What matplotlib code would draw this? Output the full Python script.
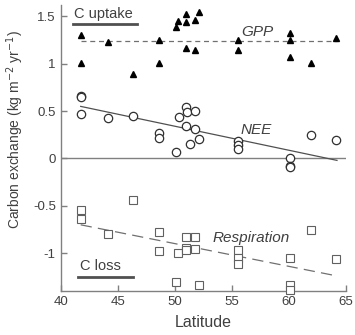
import matplotlib.pyplot as plt

# ── Data ──────────────────────────────────────────────────────────────────────
gpp_lat = [41.8, 41.8, 44.1, 46.3, 48.6, 48.6, 50.1, 50.25, 51.0, 51.0, 51.0,
           51.8, 51.8, 52.15, 55.5, 55.5, 60.1, 60.1, 60.1, 61.9, 64.1]
gpp_val = [1.30, 1.01, 1.23, 0.89, 1.25, 1.01, 1.39, 1.45, 1.52, 1.44, 1.17,
           1.46, 1.15, 1.55, 1.25, 1.15, 1.32, 1.25, 1.07, 1.01, 1.27]

nee_lat = [41.8, 41.8, 41.8, 44.1, 46.3, 48.6, 48.6, 50.1, 50.4, 51.0, 51.1,
           51.8, 51.0, 51.8, 51.3, 52.15, 55.5, 55.5, 55.5, 60.1, 60.1, 60.1,
           61.9, 64.1]
nee_val = [0.66, 0.65, 0.47, 0.43, 0.45, 0.27, 0.22, 0.07, 0.44, 0.54, 0.49,
           0.50, 0.34, 0.31, 0.15, 0.21, 0.18, 0.14, 0.10, 0.01, -0.08, -0.09,
           0.25, 0.20]

resp_lat = [41.75, 41.8, 44.1, 46.3, 48.6, 48.6, 50.25, 50.1, 51.0, 51.8,
            51.0, 51.0, 51.8, 52.15, 55.5, 55.5, 55.5, 60.1, 60.1, 60.1, 61.9,
            64.1]
resp_val = [-0.54, -0.64, -0.80, -0.44, -0.78, -0.98, -1.00, -1.30, -0.83,
            -0.83, -0.95, -0.97, -0.96, -1.34, -0.97, -1.05, -1.11, -1.05,
            -1.34, -1.39, -0.75, -1.06]

# fitted trend lines (end points)
fit_lat = [41.75, 64.2]
gpp_fit = [1.235, 1.235]
nee_fit = [0.55, -0.02]
resp_fit = [-0.70, -1.24]

x_ticks = [40, 45, 50, 55, 60, 65]
y_ticks = [-1, -0.5, 0, 0.5, 1, 1.5]
y_ticklabels = ["-1", "-0.5", "0", "0.5", "1", "1.5"]

# ── Figure ────────────────────────────────────────────────────────────────────
AXIS = "#808080"
TEXT = "#404040"
FONT = "Liberation Sans"

fig = plt.figure(figsize=(3.55, 3.35), dpi=100)
ax = fig.add_axes([0.171, 0.131, 0.804, 0.854])

ax.axhline(0, color=AXIS, linewidth=1.0, zorder=1)

ax.plot(fit_lat, gpp_fit, color="#707070", linewidth=0.9,
        linestyle=(0, (4, 3)), zorder=2)
ax.plot(fit_lat, nee_fit, color="#505050", linewidth=0.9, zorder=2)
ax.plot(fit_lat, resp_fit, color="#707070", linewidth=0.9,
        linestyle=(0, (9, 5)), zorder=2)

ax.plot(gpp_lat, gpp_val, "^", color="black", markersize=5, linestyle="none",
        zorder=3)
ax.plot(nee_lat, nee_val, "o", markerfacecolor="white", markeredgecolor="#303030",
        markeredgewidth=0.9, markersize=6, linestyle="none", zorder=3)
ax.plot(resp_lat, resp_val, "s", markerfacecolor="white", markeredgecolor="#606060",
        markeredgewidth=0.8, markersize=5.5, linestyle="none", zorder=3,
        clip_on=False)

# ── Annotations ───────────────────────────────────────────────────────────────
ax.text(57.2, 1.33, "GPP", fontstyle="italic", fontsize=11, color=TEXT,
        ha="center", va="center", family=FONT)
ax.text(57.1, 0.30, "NEE", fontstyle="italic", fontsize=11, color=TEXT,
        ha="center", va="center", family=FONT)
ax.text(56.7, -0.84, "Respiration", fontstyle="italic", fontsize=11, color=TEXT,
        ha="center", va="center", family=FONT)

ax.text(41.2, 1.52, "C uptake", fontsize=10.5, color=TEXT, ha="left",
        va="center", family=FONT)
ax.plot([41.1, 46.7], [1.42, 1.42], color="#505050", linewidth=2.0)
ax.text(41.7, -1.14, "C loss", fontsize=10.5, color=TEXT, ha="left",
        va="center", family=FONT)
ax.plot([41.5, 46.3], [-1.255, -1.255], color="#505050", linewidth=2.0)

# ── Axis styling ──────────────────────────────────────────────────────────────
ax.set_xlim(40, 65)
ax.set_ylim(-1.4, 1.62)
ax.set_xticks(x_ticks)
ax.set_yticks(y_ticks)
ax.set_yticklabels(y_ticklabels)

ax.set_xlabel("Latitude", fontsize=11.5, color=TEXT, family=FONT, labelpad=5)
ax.set_ylabel("Carbon exchange (kg m$^{-2}$ yr$^{-1}$)", fontsize=10,
              color=TEXT, family=FONT)
ax.yaxis.set_label_coords(-0.122, 0.566)

for side in ["top", "right"]:
    ax.spines[side].set_visible(False)
for side in ["left", "bottom"]:
    ax.spines[side].set_color(AXIS)
    ax.spines[side].set_linewidth(1.0)

ax.tick_params(direction="in", length=4, width=1.0, color=AXIS,
               labelcolor=TEXT, labelsize=9.5)
for lbl in ax.get_xticklabels() + ax.get_yticklabels():
    lbl.set_family(FONT)

fig.savefig("out.png", dpi=100)
